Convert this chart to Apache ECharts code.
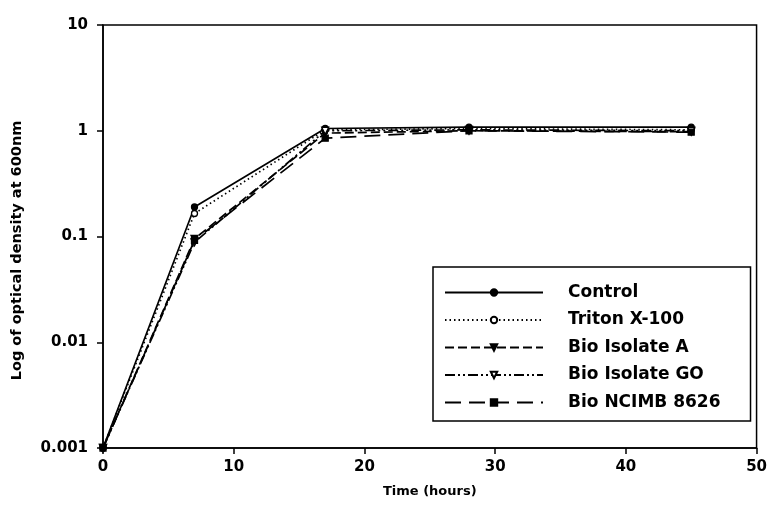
<!DOCTYPE html>
<html><head><meta charset="utf-8">
<script src="https://cdn.jsdelivr.net/npm/echarts@6/dist/echarts.min.js"></script>
<style>html,body{margin:0;padding:0;background:#fff}#c{width:770px;height:521px}</style>
</head><body><div id="c"></div>
<script>
const hours = [0, 7, 17, 28, 45];
const control = [0.001, 0.19, 1.05, 1.08, 1.08];
const triton = [0.001, 0.165, 1.02, 1.05, 1.02];
const isolateA = [0.001, 0.095, 0.95, 1.0, 0.98];
const isolateGO = [0.001, 0.088, 1.0, 1.02, 1.0];
const ncimb = [0.001, 0.092, 0.85, 1.0, 0.97];
const seriesNames = ['Control', 'Triton X-100', 'Bio Isolate A', 'Bio Isolate GO', 'Bio NCIMB 8626'];
const yTicks = ['0.001', '0.01', '0.1', '1', '10'];

const font = 'DejaVu Sans, sans-serif';
function pairs(v){ return hours.map((h,i)=>[h, v[i]]); }
const styles = [
  {data: control, symbol: 'circle', size: 6, fill: '#000', dash: 'solid'},
  {data: triton, symbol: 'circle', size: 6, fill: '#fff', dash: [1.5, 3]},
  {data: isolateA, symbol: 'triangle', size: 7, fill: '#000', dash: [9, 4], rot: 180},
  {data: isolateGO, symbol: 'triangle', size: 7, fill: '#fff', dash: [10, 3, 2, 3, 2, 3], rot: 180},
  {data: ncimb, symbol: 'rect', size: 6, fill: '#000', dash: [16, 8]}
];
const series = styles.map((s, i) => ({
  name: seriesNames[i],
  type: 'line',
  data: pairs(s.data),
  symbol: s.symbol,
  symbolSize: s.size,
  symbolRotate: s.rot || 0,
  lineStyle: {color: '#000', width: 1.7, type: s.dash},
  itemStyle: {color: s.fill, borderColor: '#000', borderWidth: 1.3},
  animation: false
}));

const chart = echarts.init(document.getElementById('c'));
chart.setOption({
  backgroundColor: '#fff',
  grid: {left: 103, top: 25, right: 13, bottom: 73, show: true, borderColor: '#000', borderWidth: 1.5},
  legend: {
    orient: 'vertical', left: 433, top: 267,
    data: seriesNames,
    itemWidth: 98, itemHeight: 8, itemGap: 10.5,
    padding: [17, 30, 10, 11],
    borderColor: '#000', borderWidth: 1.5,
    textStyle: {fontFamily: font, fontWeight: 'bold', fontSize: 17, color: '#000', padding: [0, 0, 0, 20]}
  },
  xAxis: {
    type: 'value', min: 0, max: 50, interval: 10,
    name: 'Time (hours)', nameLocation: 'middle', nameGap: 37,
    nameTextStyle: {fontFamily: font, fontWeight: 'bold', fontSize: 13, color: '#000'},
    axisLine: {lineStyle: {color: '#000', width: 1.5}},
    axisTick: {inside: false, length: 6, lineStyle: {color: '#000', width: 1.5}},
    axisLabel: {fontFamily: font, fontWeight: 'bold', fontSize: 15, color: '#000', margin: 12},
    splitLine: {show: false}
  },
  yAxis: {
    type: 'log', logBase: 10, min: 0.001, max: 10,
    name: 'Log of optical density at 600nm', nameLocation: 'middle', nameGap: 78,
    nameTextStyle: {fontFamily: font, fontWeight: 'bold', fontSize: 14.5, color: '#000', padding: [0, 28, 0, 0]},
    axisLine: {lineStyle: {color: '#000', width: 1.5}},
    axisTick: {inside: false, length: 6, lineStyle: {color: '#000', width: 1.5}},
    axisLabel: {fontFamily: font, fontWeight: 'bold', fontSize: 15, color: '#000', margin: 15,
      formatter: function(v){ const e = Math.round(Math.log10(v)); return yTicks[e + 3]; }},
    splitLine: {show: false}
  },
  series: series
});
</script></body></html>
